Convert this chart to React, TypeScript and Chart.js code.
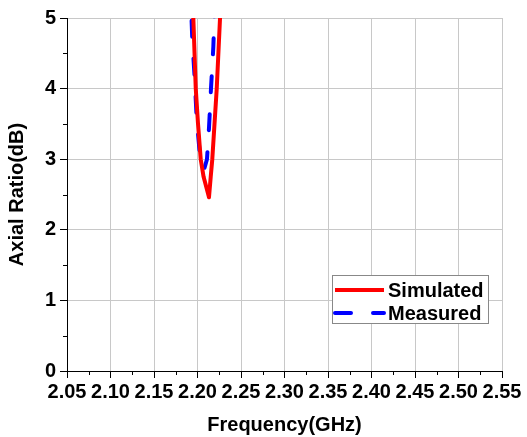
import React, { useEffect, useRef } from "react";
import { Chart, registerables } from "chart.js";

Chart.register(...registerables);

// Simulated axial ratio
const simFreq = [2.1938, 2.1952, 2.198, 2.2006, 2.2037, 2.207, 2.2132, 2.2152, 2.217, 2.2221, 2.2259, 2.228];
const simAR = [5.5, 5.0, 4.0, 3.5, 3.0, 2.75, 2.46, 2.75, 3.0, 4.0, 5.0, 5.5];

// Measured axial ratio
const measFreq = [2.1925, 2.1931, 2.194, 2.1968, 2.1991, 2.2029, 2.2075, 2.2109, 2.2132, 2.2155, 2.2182, 2.2193, 2.2199];
const measAR = [5.5, 5.0, 4.7, 4.14, 3.57, 3.04, 2.85, 3.0, 3.44, 4.0, 4.59, 5.0, 5.5];

const xTicks = [2.05, 2.1, 2.15, 2.2, 2.25, 2.3, 2.35, 2.4, 2.45, 2.5, 2.55];
const yTicks = [0, 1, 2, 3, 4, 5];

const seriesNames = ["Simulated", "Measured"];
const FONT = "'Liberation Sans', Arial, sans-serif";

const minorTicks = {
  id: "minorTicks",
  afterDraw(chart: any) {
    const ctx = chart.ctx;
    const xs = chart.scales.x;
    const ys = chart.scales.y;
    const { left, bottom } = chart.chartArea;
    ctx.save();
    ctx.strokeStyle = "#000";
    ctx.lineWidth = 1;
    ctx.beginPath();
    for (let i = 0; i < xTicks.length - 1; i++) {
      const v = (xTicks[i] + xTicks[i + 1]) / 2;
      const px = Math.round(xs.getPixelForValue(v)) + 0.5;
      ctx.moveTo(px, bottom);
      ctx.lineTo(px, bottom + 4);
    }
    for (let i = 0; i < yTicks.length - 1; i++) {
      const v = (yTicks[i] + yTicks[i + 1]) / 2;
      const py = Math.round(ys.getPixelForValue(v)) + 0.5;
      ctx.moveTo(left, py);
      ctx.lineTo(left - 4, py);
    }
    ctx.stroke();
    ctx.restore();
  },
};

const legendBox = {
  id: "legendBox",
  afterDraw(chart: any) {
    const ctx = chart.ctx;
    const { right, bottom } = chart.chartArea;
    const w = 156;
    const h = 48;
    const x0 = right - 170;
    const y0 = bottom - 96;
    ctx.save();
    ctx.fillStyle = "#fff";
    ctx.fillRect(x0, y0, w, h);
    ctx.strokeStyle = "#888";
    ctx.lineWidth = 1;
    ctx.strokeRect(x0 + 0.5, y0 + 0.5, w, h);
    const rows = [y0 + 15, y0 + 38];
    chart.data.datasets.forEach((ds: any, i: number) => {
      ctx.beginPath();
      ctx.strokeStyle = ds.borderColor;
      ctx.lineWidth = ds.borderWidth;
      ctx.lineCap = i === 0 ? "butt" : ds.borderCapStyle || "butt";
      ctx.setLineDash(ds.borderDash || []);
      ctx.moveTo(x0 + 3, rows[i]);
      ctx.lineTo(x0 + 52, rows[i]);
      ctx.stroke();
      ctx.setLineDash([]);
      ctx.fillStyle = "#000";
      ctx.font = `bold 20px ${FONT}`;
      ctx.textBaseline = "middle";
      ctx.textAlign = "left";
      ctx.fillText(seriesNames[i], x0 + 56, rows[i] + 1);
    });
    ctx.restore();
  },
};

export default function App() {
  const ref = useRef<HTMLCanvasElement>(null);
  useEffect(() => {
    if (!ref.current) return;
    const chart = new Chart(ref.current, {
      type: "line",
      data: {
        datasets: [
          {
            label: seriesNames[0],
            data: simFreq.map((f, i) => ({ x: f, y: simAR[i] })),
            borderColor: "#ff0000",
            borderWidth: 4,
            borderJoinStyle: "round",
            borderCapStyle: "round",
            pointRadius: 0,
            tension: 0,
            clip: 0,
          } as any,
          {
            label: seriesNames[1],
            data: measFreq.map((f, i) => ({ x: f, y: measAR[i] })),
            borderColor: "#0000ff",
            borderWidth: 4,
            borderDash: [16, 22],
            borderCapStyle: "round",
            borderJoinStyle: "round",
            pointRadius: 0,
            tension: 0,
            clip: 0,
          } as any,
        ],
      },
      options: {
        animation: false,
        responsive: false,
        layout: { padding: { top: 18, right: 25, left: 5, bottom: 0 } },
        plugins: { legend: { display: false }, tooltip: { enabled: false } },
        scales: {
          x: {
            type: "linear",
            min: 2.05,
            max: 2.55,
            afterBuildTicks: (s: any) => {
              s.ticks = xTicks.map((v) => ({ value: v }));
            },
            afterFit: (s: any) => {
              s.height = 66;
            },
            ticks: {
              autoSkip: false,
              maxRotation: 0,
              minRotation: 0,
              color: "#000",
              padding: 2,
              font: { family: FONT, size: 20, weight: "bold" },
              callback: (v: any) => Number(v).toFixed(2),
            },
            grid: { color: "#c8c8c8", tickColor: "#000", tickLength: 7, lineWidth: 1 },
            border: { color: "#000", width: 1 },
            title: {
              display: true,
              text: "Frequency(GHz)",
              color: "#000",
              font: { family: FONT, size: 20, weight: "bold" },
              padding: { top: 6, bottom: 0 },
            },
          },
          y: {
            type: "linear",
            min: 0,
            max: 5,
            afterBuildTicks: (s: any) => {
              s.ticks = yTicks.map((v) => ({ value: v }));
            },
            afterFit: (s: any) => {
              s.width = 62;
            },
            ticks: {
              color: "#000",
              padding: 4,
              font: { family: FONT, size: 20, weight: "bold" },
            },
            grid: { color: "#c8c8c8", tickColor: "#000", tickLength: 7, lineWidth: 1 },
            border: { color: "#000", width: 1 },
            title: {
              display: true,
              text: "Axial Ratio(dB)",
              color: "#000",
              font: { family: FONT, size: 20, weight: "bold" },
              padding: { top: 0, bottom: 0 },
            },
          },
        },
      },
      plugins: [minorTicks, legendBox],
    } as any);
    return () => chart.destroy();
  }, []);
  return (
    <div style={{ position: "absolute", left: 0, top: 0, width: 527, height: 437, background: "#fff" }}>
      <canvas ref={ref} width={527} height={437} style={{ display: "block" }} />
    </div>
  );
}
